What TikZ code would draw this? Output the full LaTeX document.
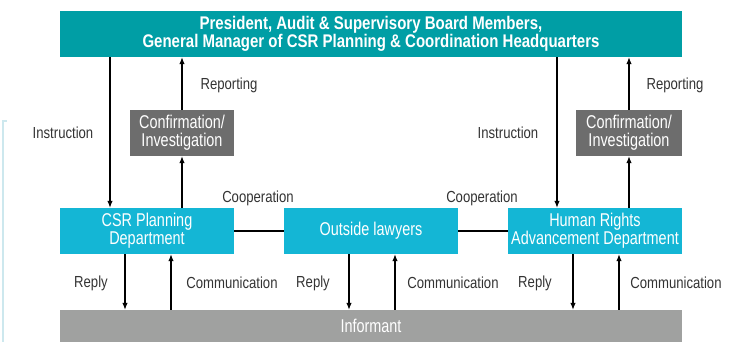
\documentclass[tikz,border=0pt]{standalone}
\usepackage{fontspec}
\setmainfont{Liberation Sans}[FakeStretch=0.82]
\newfontfamily\boxfont{Liberation Sans}[FakeStretch=0.78]
\usetikzlibrary{arrows.meta}
\definecolor{topc}{HTML}{009EA5}
\definecolor{deptc}{HTML}{14B6D5}
\definecolor{confc}{HTML}{6D6D6D}
\definecolor{infc}{HTML}{A0A1A0}
\definecolor{edgec}{HTML}{CDE8EE}
\definecolor{labc}{HTML}{333333}
\tikzset{
  box/.style={rectangle, inner sep=0pt, text=white, align=center,
    font=\boxfont\fontsize{18.5}{18}\selectfont},
  topbox/.style={box, fill=topc, minimum width=622pt, minimum height=46pt,
    font=\fontsize{18.3}{18}\selectfont\bfseries},
  deptbox/.style={box, fill=deptc, minimum width=174pt, minimum height=46pt},
  confbox/.style={box, fill=confc, minimum height=46pt},
  infbox/.style={box, fill=infc, minimum width=622pt, minimum height=32pt},
  lab/.style={text=labc, font=\fontsize{16}{16}\selectfont, inner sep=0pt},
  arr/.style={draw=black, line width=1.1pt, -{Latex[length=7pt,width=5.5pt]}},
  link/.style={draw=black, line width=1.1pt}
}
\begin{document}
\begin{tikzpicture}[x=1pt,y=-1pt]
\useasboundingbox (0,0) rectangle (744,342);
\draw[edgec, line width=1.5pt] (7,121) -- (3,121) -- (3,345);
% nodes
\node[topbox] (top) at (371,34) {President, Audit \& Supervisory Board Members,\\General Manager of CSR Planning \& Coordination Headquarters};
\node[confbox, minimum width=104pt] (confL) at (182,133) {Confirmation/\\Investigation};
\node[confbox, minimum width=106pt] (confR) at (629,133) {Confirmation/\\Investigation};
\node[deptbox] (csr) at (147,231) {CSR Planning\\Department};
\node[deptbox] (law) at (371,231) {Outside lawyers};
\node[deptbox] (hr) at (595,231) {Human Rights\\Advancement Department};
\node[infbox] (inf) at (371,326) {Informant};
% x positions of arrows
\coordinate (iL) at (110,0);
\coordinate (iR) at (557,0);
\coordinate (rA) at (125,0);
\coordinate (cA) at (171,0);
\coordinate (rB) at (349,0);
\coordinate (cB) at (395,0);
\coordinate (rC) at (573,0);
\coordinate (cC) at (619,0);
% connectors
\draw[arr] (top.south -| iL) -- (csr.north -| iL);
\draw[arr] (top.south -| iR) -- (hr.north -| iR);
\draw[arr] (confL.north) -- (top.south -| confL.north);
\draw[arr] (csr.north -| confL.south) -- (confL.south);
\draw[arr] (confR.north) -- (top.south -| confR.north);
\draw[arr] (hr.north -| confR.south) -- (confR.south);
\draw[link] (csr.east) -- (law.west);
\draw[link] (law.east) -- (hr.west);
\draw[arr] (csr.south -| rA) -- (inf.north -| rA);
\draw[arr] (inf.north -| cA) -- (csr.south -| cA);
\draw[arr] (law.south -| rB) -- (inf.north -| rB);
\draw[arr] (inf.north -| cB) -- (law.south -| cB);
\draw[arr] (hr.south -| rC) -- (inf.north -| rC);
\draw[arr] (inf.north -| cC) -- (hr.south -| cC);
% labels
\node[lab] (l1) at (63,133) {Instruction};
\node[lab] (l2) at (508,133) {Instruction};
\node[lab] (l3) at (229,85) {Reporting};
\node[lab] (l4) at (675,85) {Reporting};
\node[lab] (l5) at (258,198) {Cooperation};
\node[lab] (l6) at (482,198) {Cooperation};
\node[lab] (l7) at (91,283) {Reply};
\node[lab] (l8) at (313,283) {Reply};
\node[lab] (l9) at (535,283) {Reply};
\node[lab] (l10) at (232,283) {Communication};
\node[lab] (l11) at (453,283) {Communication};
\node[lab] (l12) at (676,283) {Communication};
\end{tikzpicture}
\end{document}
